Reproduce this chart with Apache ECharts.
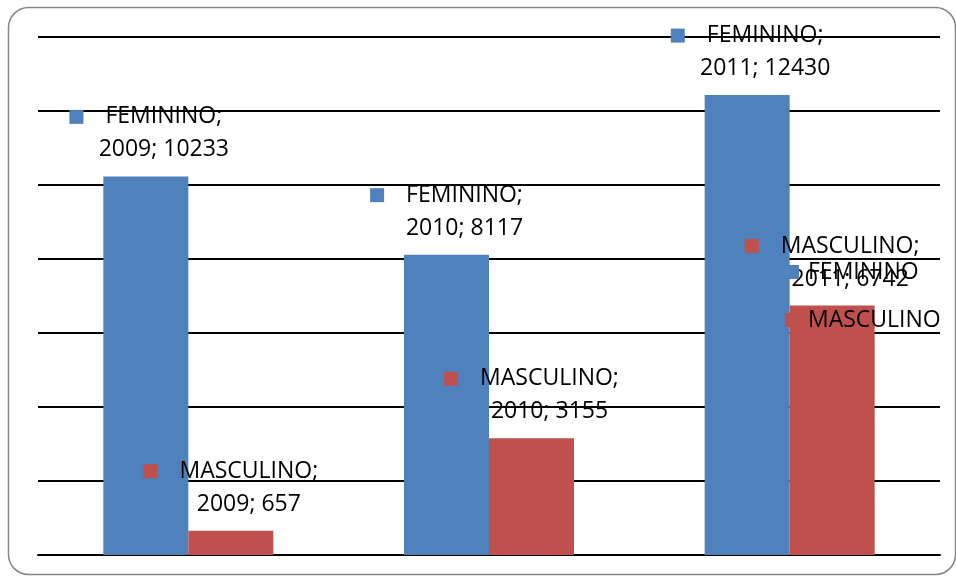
<!DOCTYPE html>
<html>
<head>
<meta charset="utf-8">
<script src="https://cdn.jsdelivr.net/npm/echarts@6/dist/echarts.min.js"></script>
<style>html,body{margin:0;padding:0;background:#fff;}#c{width:956px;height:577px;}</style>
</head>
<body>
<div id="c"></div>
<script>
var categories = ['2009', '2010', '2011'];
var femininoValues = [10233, 8117, 12430];
var masculinoValues = [657, 3155, 6742];
var seriesNames = ['FEMININO', 'MASCULINO'];
var colors = ['#4F81BD', '#C0504D'];

var FONT = 'Open Sans';

function makeLabel(color) {
  return {
    show: true,
    position: 'top',
    distance: 10,
    color: '#000',
    fontFamily: FONT,
    fontSize: 23,
    lineHeight: 33,
    align: 'center',
    formatter: function (p) {
      return '{sq|}{g|}' + p.seriesName + ';\n{sp|}' + p.name + '; ' + p.value;
    },
    rich: {
      sq: { width: 14, height: 14, backgroundColor: color },
      g: { width: 22 },
      sp: { width: 36 }
    }
  };
}

var chart = echarts.init(document.getElementById('c'));
chart.setOption({
  animation: false,
  backgroundColor: '#fff',
  graphic: [{
    type: 'rect',
    shape: { x: 8.5, y: 7.5, width: 947, height: 567, r: 20 },
    style: { fill: 'none', stroke: '#868686', lineWidth: 1.5 },
    z: -10
  }],
  grid: { left: 38, right: 16, top: 37, bottom: 22 },
  legend: {
    orient: 'vertical',
    left: 785,
    top: 260,
    padding: 0,
    itemWidth: 14,
    itemHeight: 14,
    itemGap: 24,
    icon: 'rect',
    textStyle: { fontFamily: FONT, fontSize: 23, lineHeight: 24, color: '#000', padding: [0, 0, 0, 4] },
    data: seriesNames
  },
  xAxis: {
    type: 'category',
    data: categories,
    axisLine: { show: true, lineStyle: { color: '#000', width: 2 } },
    axisTick: { show: false },
    axisLabel: { show: false }
  },
  yAxis: {
    type: 'value',
    min: 0,
    max: 14000,
    interval: 2000,
    axisLine: { show: false },
    axisTick: { show: false },
    axisLabel: { show: false },
    splitLine: { show: true, lineStyle: { color: '#000', width: 2 } }
  },
  series: [
    {
      name: seriesNames[0],
      type: 'bar',
      data: femininoValues,
      barWidth: 85,
      barGap: '0%',
      itemStyle: { color: colors[0] },
      label: makeLabel(colors[0])
    },
    {
      name: seriesNames[1],
      type: 'bar',
      data: masculinoValues,
      barWidth: 85,
      barGap: '0%',
      itemStyle: { color: colors[1] },
      label: makeLabel(colors[1])
    }
  ]
});
</script>
</body>
</html>
